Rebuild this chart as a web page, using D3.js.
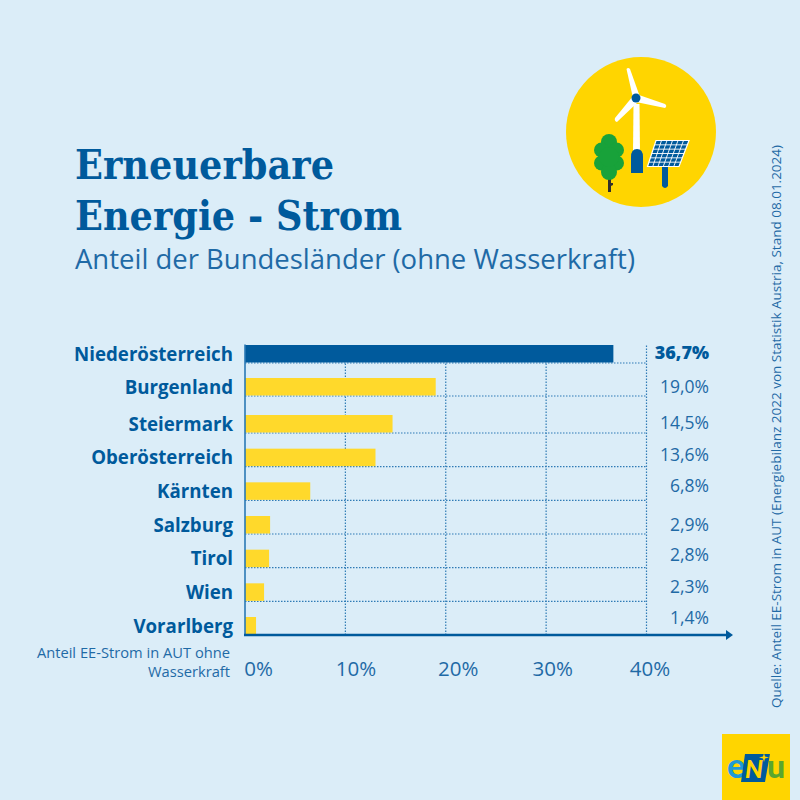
<!DOCTYPE html>
<html>
<head>
<meta charset="utf-8">
<script src="https://cdn.jsdelivr.net/npm/d3@7"></script>
<style>
  html, body { margin: 0; padding: 0; background: #dbedf8; }
  text { font-family: "Open Sans", sans-serif; }
</style>
</head>
<body>
<svg width="800" height="800"></svg>
<script>
// data
var laender = ["Niederösterreich", "Burgenland", "Steiermark", "Oberösterreich", "Kärnten", "Salzburg", "Tirol", "Wien", "Vorarlberg"];
// printed labels
var anteile = [36.7, 19.0, 14.5, 13.6, 6.8, 2.9, 2.8, 2.3, 1.4];
// bar lengths as drawn in the picture, these differ a little from the printed labels
var balken = [36.7, 19.0, 14.7, 13.0, 6.5, 2.5, 2.4, 1.9, 1.1];
var ticks = [0, 10, 20, 30, 40];

var blue = "#005a9c", textBlue = "#1f6aa6", yellow = "#ffd92b", bg = "#dbedf8";

var svg = d3.select("svg");
svg.append("rect").attr("width", 800).attr("height", 800).attr("fill", bg);

var x = d3.scaleLinear().domain([0, 40]).range([245, 646.5]);
// rows in the original are not quite evenly spaced
var rowBottom = d3.scaleLinear().domain([0, 1, 2, 8]).range([363, 396, 433, 635]);
var barH = 17.5;

// title
var title = svg.append("g").attr("fill", blue)
  .style("font-weight", "bold");
title.append("text").attr("x", 75).attr("y", 179)
  .style("font-family", "'DejaVu Serif'").style("font-size", "41px")
  .attr("textLength", 259).attr("lengthAdjust", "spacingAndGlyphs").text("Erneuerbare");
title.append("text").attr("x", 75).attr("y", 230)
  .style("font-family", "'DejaVu Serif'").style("font-size", "41px")
  .attr("textLength", 327).attr("lengthAdjust", "spacingAndGlyphs").text("Energie - Strom");
svg.append("text").attr("x", 75).attr("y", 269).attr("fill", textBlue)
  .style("font-size", "26.5px").style("font-weight", "400")
  .attr("textLength", 560).attr("lengthAdjust", "spacingAndGlyphs")
  .text("Anteil der Bundesländer (ohne Wasserkraft)");

// grid
var grid = svg.append("g").attr("stroke", "#2f7bb5").attr("stroke-width", 1.2).attr("stroke-dasharray", "1.5 1.5");
grid.selectAll("line.v").data(ticks.slice(1)).enter().append("line")
  .attr("class", "v")
  .attr("x1", function(d) { return x(d); }).attr("x2", function(d) { return x(d); })
  .attr("y1", rowBottom(0) - barH).attr("y2", rowBottom(8));
grid.selectAll("line.h").data(laender.slice(0, 8)).enter().append("line")
  .attr("class", "h")
  .attr("x1", x(0)).attr("x2", x(40))
  .attr("y1", function(d, i) { return rowBottom(i); }).attr("y2", function(d, i) { return rowBottom(i); });

// bars
svg.append("g").selectAll("rect").data(balken).enter().append("rect")
  .attr("x", x(0))
  .attr("y", function(d, i) { return rowBottom(i) - barH - 0.5; })
  .attr("width", function(d) { return x(d) - x(0); })
  .attr("height", barH)
  .attr("fill", function(d, i) { return i == 0 ? blue : yellow; });

// category labels
svg.append("g").selectAll("text").data(laender).enter().append("text")
  .attr("x", 233)
  .attr("y", function(d, i) { return rowBottom(i) - 2.5; })
  .attr("text-anchor", "end")
  .attr("fill", blue)
  .style("font-weight", "700")
  .style("font-size", "18.7px")
  .text(function(d) { return d; });

// value labels sit on their own baselines, not on the rows
var labelBase = d3.scaleLinear().domain(d3.range(9)).range([359, 393, 429, 461, 492, 531, 561, 593, 624]);
svg.append("g").selectAll("text").data(anteile).enter().append("text")
  .attr("x", 709)
  .attr("y", function(d, i) { return labelBase(i); })
  .attr("text-anchor", "end")
  .attr("fill", function(d, i) { return i == 0 ? blue : textBlue; })
  .style("font-weight", function(d, i) { return i == 0 ? "800" : "400"; })
  .style("font-size", function(d, i) { return i == 0 ? "18px" : "17.5px"; })
  .text(function(d) { return d.toFixed(1).replace(".", ",") + "%"; });

// left axis line
svg.append("line").attr("x1", x(0)).attr("x2", x(0))
  .attr("y1", rowBottom(0) - barH - 1).attr("y2", rowBottom(8) + 1)
  .attr("stroke", "#2a78b4").attr("stroke-width", 1.6);

// x axis, tick labels are set off to the right of their grid lines
var tickShift = d3.scaleLinear().domain(ticks).range([13, 10, 12, 6, 3]);
var xAxis = d3.axisBottom(x).tickValues(ticks).tickSize(0).tickPadding(26)
  .tickFormat(function(d) { return d + "%"; });
var axisG = svg.append("g").attr("transform", "translate(0," + rowBottom(8) + ")").call(xAxis);
axisG.select(".domain").remove();
axisG.selectAll("text").attr("fill", textBlue).style("font-size", "20.5px")
  .attr("dx", function(d) { return tickShift(d); });
svg.append("line").attr("x1", x(0) - 1).attr("x2", 729).attr("y1", rowBottom(8)).attr("y2", rowBottom(8))
  .attr("stroke", blue).attr("stroke-width", 2.5);
svg.append("path").attr("d", "M726 630 L733 635 L726 640 Z").attr("fill", blue);

// axis caption
svg.append("text").attr("x", 230).attr("y", 658).attr("text-anchor", "end").attr("fill", textBlue)
  .style("font-size", "14.7px").text("Anteil EE-Strom in AUT ohne");
svg.append("text").attr("x", 230).attr("y", 677).attr("text-anchor", "end").attr("fill", textBlue)
  .style("font-size", "14.7px").text("Wasserkraft");

// source
svg.append("text").attr("transform", "translate(781,708) rotate(-90)").attr("fill", textBlue)
  .style("font-size", "12.5px")
  .attr("textLength", 563).attr("lengthAdjust", "spacingAndGlyphs")
  .text("Quelle: Anteil EE-Strom in AUT (Energiebilanz 2022 von Statistik Austria, Stand 08.01.2024)");

// icon
var icon = svg.append("g");
icon.append("circle").attr("cx", 641).attr("cy", 132).attr("r", 75).attr("fill", "#ffd500");
// tree
icon.append("path").attr("d", "M608 178 L608 192 L611 192 L611 186 L613 185 L613 183 L611 183 L611 178 Z").attr("fill", "#33302b");
icon.selectAll("circle.tree").data([[609, 142, 8], [601.5, 150, 7.5], [616.5, 150, 7.5], [601.5, 163, 7.5], [616.5, 163, 7.5], [609, 172, 8], [609, 157, 10]])
  .enter().append("circle").attr("class", "tree")
  .attr("cx", function(d) { return d[0]; }).attr("cy", function(d) { return d[1]; }).attr("r", function(d) { return d[2]; })
  .attr("fill", "#18a23a");
// wind turbine
icon.append("path").attr("d", "M633.5 104 L639.5 104 L640 152 L633 152 Z").attr("fill", "white");
icon.selectAll("path.blade").data(["M633 98 L626.5 69 Q628 67 630 69 L640 97 Z", "M636 94 L665 104 Q667.5 106 665 108 L636 102 Z", "M638 102 L617 122 Q614 121 615 118 L633 96 Z"])
  .enter().append("path").attr("class", "blade").attr("d", function(d) { return d; }).attr("fill", "white");
icon.append("circle").attr("cx", 636).attr("cy", 98).attr("r", 4.5).attr("fill", blue);
icon.append("path").attr("d", "M631 173 L631 157 Q631 149 637 149 Q643 149 643 157 L643 173 Z").attr("fill", blue);
// solar panel
icon.append("path").attr("d", "M662 165 L668 165 L668 186 Q665 190 662 186 Z").attr("fill", blue);
icon.append("path").attr("d", "M656 140.5 L689 140.5 L679 166.5 L647.5 166.5 Z").attr("fill", blue).attr("stroke", "white").attr("stroke-width", 1.2);
var sun = icon.append("g").attr("stroke", "white").attr("stroke-width", 0.9);
d3.range(1, 6).forEach(function(i) {
  var t = i / 6;
  sun.append("line").attr("x1", 656 + 33 * t).attr("y1", 140.5).attr("x2", 647.5 + 31.5 * t).attr("y2", 166.5);
  sun.append("line").attr("x1", 656 - 8.5 * t).attr("y1", 140.5 + 26 * t).attr("x2", 689 - 10 * t).attr("y2", 140.5 + 26 * t);
});

// logo
var logo = svg.append("g");
logo.append("rect").attr("x", 722).attr("y", 734).attr("width", 68).attr("height", 66).attr("fill", "#ffd500");
logo.append("text").attr("x", 727).attr("y", 778).attr("fill", "#1f9ad6")
  .style("font-family", "Lato").style("font-weight", "900").style("font-size", "34px").text("e");
logo.append("path").attr("d", "M745 754 L770 754 L765 782 L741 782 Z").attr("fill", blue);
logo.append("text").attr("x", 745).attr("y", 778).attr("fill", "#ffd500")
  .style("font-family", "Lato").style("font-weight", "900").style("font-style", "italic").style("font-size", "25px").text("N");
logo.append("path").attr("d", "M764 753 L765 756.5 L769 757.5 L765 758.5 L764 762 L763 758.5 L759 757.5 L763 756.5 Z").attr("fill", "#ffd500");
logo.append("text").attr("x", 767).attr("y", 778).attr("fill", "#5aa62f")
  .style("font-family", "Lato").style("font-weight", "900").style("font-size", "32px").text("u");
</script>
</body>
</html>
